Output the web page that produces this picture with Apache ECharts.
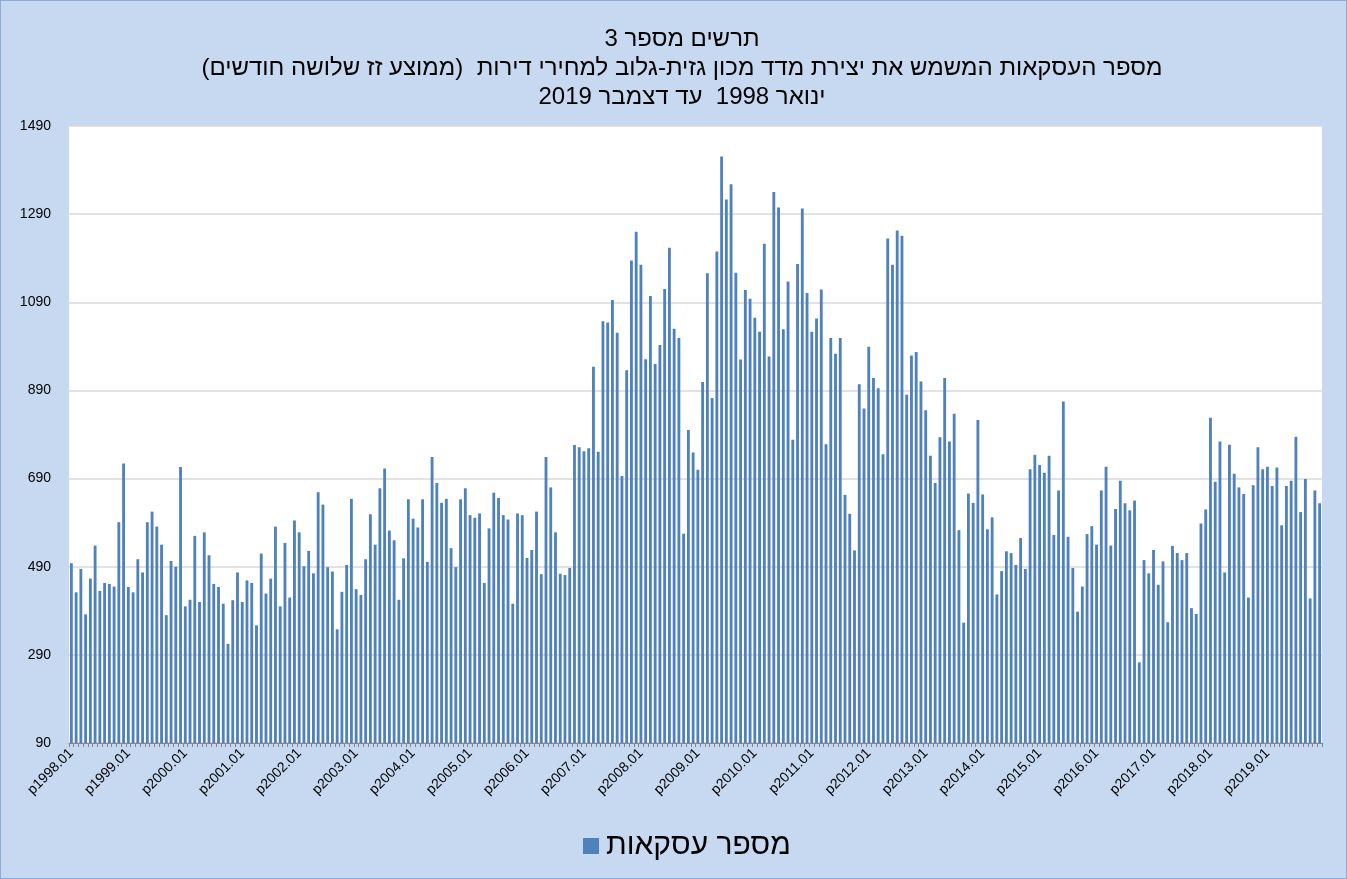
<!DOCTYPE html>
<html>
<head>
<meta charset="utf-8">
<script src="https://cdn.jsdelivr.net/npm/echarts@6/dist/echarts.min.js"></script>
<style>
  html, body { margin: 0; padding: 0; background: #c6d9f1; }
  #chart { width: 1347px; height: 879px; box-sizing: border-box; border: 1px solid #8eaadb; }
</style>
</head>
<body>
<div id="chart"></div>
<script>
// years shown on the axis (one label per January)
const years = [1998, 1999, 2000, 2001, 2002, 2003, 2004, 2005, 2006, 2007, 2008,
  2009, 2010, 2011, 2012, 2013, 2014, 2015, 2016, 2017, 2018, 2019];

// monthly values, 3-month moving average
const v1998 = [498, 432, 485, 382, 463, 538, 435, 453, 451, 445, 591, 724];
const v1999 = [444, 432, 507, 477, 591, 615, 581, 540, 380, 503, 490, 716];
const v2000 = [400, 415, 560, 410, 568, 516, 451, 444, 406, 315, 414, 477];
const v2001 = [410, 459, 453, 357, 520, 429, 463, 581, 400, 544, 420, 595];
const v2002 = [568, 491, 526, 475, 659, 631, 489, 479, 348, 433, 494, 644];
const v2003 = [439, 426, 507, 609, 540, 668, 713, 572, 550, 415, 509, 643];
const v2004 = [599, 579, 643, 501, 739, 680, 635, 644, 532, 489, 643, 668];
const v2005 = [607, 601, 611, 453, 577, 658, 646, 607, 597, 406, 611, 607];
const v2006 = [510, 528, 615, 473, 739, 670, 568, 474, 471, 487, 766, 761];
const v2007 = [752, 759, 944, 751, 1047, 1044, 1095, 1021, 696, 936, 1185, 1250];
const v2008 = [1175, 961, 1104, 950, 993, 1120, 1214, 1030, 1009, 565, 800, 749];
const v2009 = [710, 909, 1156, 873, 1205, 1421, 1323, 1358, 1157, 960, 1118, 1098];
const v2010 = [1055, 1023, 1223, 967, 1340, 1305, 1029, 1137, 778, 1177, 1303, 1111];
const v2011 = [1023, 1053, 1119, 768, 1009, 973, 1009, 653, 610, 527, 904, 849];
const v2012 = [989, 918, 895, 745, 1235, 1175, 1253, 1241, 880, 969, 977, 910];
const v2013 = [845, 742, 680, 784, 918, 774, 837, 573, 363, 656, 635, 823];
const v2014 = [654, 575, 602, 427, 480, 525, 521, 494, 555, 485, 711, 744];
const v2015 = [721, 703, 742, 562, 663, 865, 558, 487, 388, 445, 564, 582];
const v2016 = [540, 663, 717, 538, 621, 685, 634, 618, 640, 273, 505, 475];
const v2017 = [528, 449, 502, 364, 537, 521, 505, 521, 396, 383, 588, 620];
const v2018 = [828, 683, 774, 477, 767, 701, 670, 655, 420, 675, 761, 711];
const v2019 = [717, 673, 715, 584, 673, 685, 785, 614, 689, 418, 663, 634];

const yTicks = [90, 290, 490, 690, 890, 1090, 1290, 1490];

const values = [].concat(v1998, v1999, v2000, v2001, v2002, v2003, v2004, v2005,
  v2006, v2007, v2008, v2009, v2010, v2011, v2012, v2013, v2014, v2015, v2016,
  v2017, v2018, v2019);

const categories = [];
years.forEach(y => {
  for (let m = 1; m <= 12; m++) {
    categories.push("p" + y + "." + (m < 10 ? "0" + m : m));
  }
});

const chart = echarts.init(document.getElementById("chart"));
const font = "'Liberation Sans', Arial, sans-serif";

chart.setOption({
  backgroundColor: "#c6d9f1",
  textStyle: { fontFamily: font },
  title: {
    text: "תרשים מספר 3\nמספר העסקאות המשמש את יצירת מדד מכון גזית-גלוב למחירי דירות  (ממוצע זז שלושה חודשים)\nינואר 1998  עד דצמבר 2019",
    left: 676,
    textAlign: "center",
    top: 19,
    textStyle: { fontSize: 24, fontWeight: "normal", color: "#000", lineHeight: 29, fontFamily: font }
  },
  legend: {
    bottom: 12,
    left: 577,
    itemWidth: 16,
    itemHeight: 16,
    itemGap: 10,
    icon: "rect",
    textStyle: { fontSize: 30, color: "#000", fontFamily: font, padding: [0, 0, 0, 2] }
  },
  grid: {
    left: 68,
    right: 24,
    top: 125,
    bottom: 135,
    show: true,
    backgroundColor: "#ffffff",
    borderWidth: 0
  },
  xAxis: {
    type: "category",
    data: categories,
    axisLine: { lineStyle: { color: "#868686" } },
    axisTick: { show: true, interval: 0, length: 4, lineStyle: { color: "#868686" } },
    axisLabel: {
      interval: 11,
      rotate: 45,
      fontSize: 14,
      color: "#000",
      margin: 8
    }
  },
  yAxis: {
    type: "value",
    min: yTicks[0],
    max: yTicks[yTicks.length - 1],
    interval: 200,
    axisLine: { show: false },
    axisTick: { show: false },
    axisLabel: { fontSize: 14, color: "#000", margin: 18, formatter: v => String(v) },
    splitLine: { lineStyle: { color: "#d9d9d9", width: 1.5 } }
  },
  series: [
    {
      name: "מספר עסקאות",
      type: "bar",
      data: values,
      barCategoryGap: "40%",
      itemStyle: { color: "#4f81bd" }
    }
  ]
});
</script>
</body>
</html>
